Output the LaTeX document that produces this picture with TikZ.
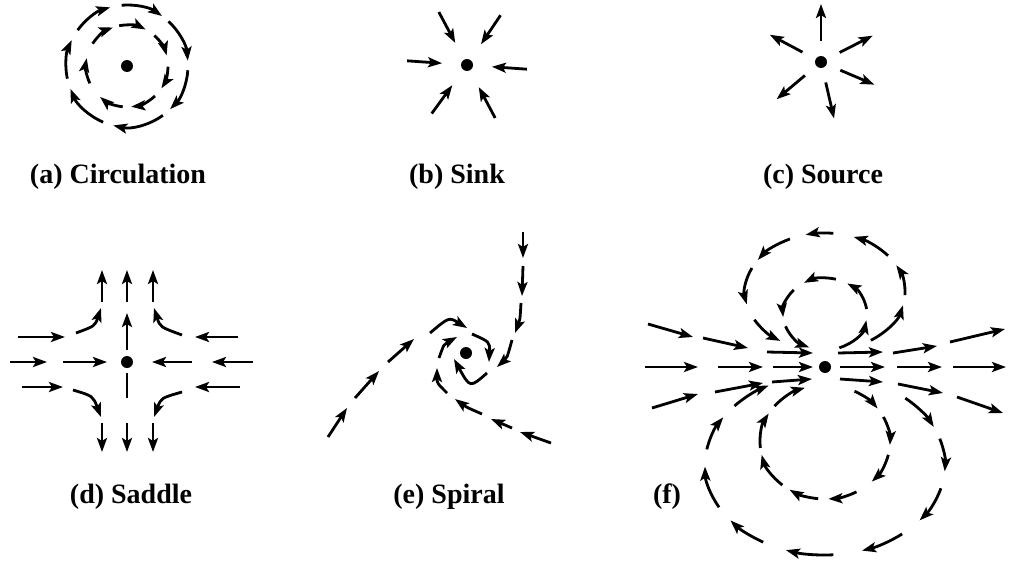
\documentclass[tikz,border=0pt]{standalone}
\usepackage{fontspec}
\setmainfont{Liberation Serif}
\usetikzlibrary{arrows.meta}

\begin{document}
\begin{tikzpicture}[
  x=1pt, y=-1pt,
  flow/.style={-{Stealth[length=14pt, width=10pt, inset=3pt]}, line width=2.8pt},
  seg/.style={line width=2.8pt},
  dot/.style={circle, fill, inner sep=0pt, minimum size=12pt},
  lbl/.style={font=\fontsize{28}{30}\selectfont\bfseries, inner sep=0pt}
]
\useasboundingbox (0,0) rectangle (1010,562);

% (a) circulation
\node[dot] (ca) at (127,66) {};
\foreach \s/\e in {4/45, 54/103, 113/158, 168/205, 216/254, 265/305, 313/355}
  \draw[flow] (127,66) ++(\s:61) arc[start angle=\s, end angle=\e, radius=61];
\foreach \s/\e in {1/33, 47/84, 96/131, 155/191, 213/250, 259/297, 312/345}
  \draw[flow] (127,66) ++(\s:41) arc[start angle=\s, end angle=\e, radius=41];

% (b) sink
\node[dot] (cb) at (467,65) {};
\foreach \a in {4,62,126,184,242,304}
  \draw[flow, shift={(467,65)}] (\a:60) -- (\a:25);

% (c) source
\node[dot] (cc) at (821,62) {};
\foreach \a in {23,77,140,208,270,333}
  \draw[flow, shift={(821,62)}] (\a:21) -- (\a:58);

% (d) saddle
\node[dot] (cd) at (127,362) {};
\draw[flow] (18,337) -- (65,337);
\draw[flow] (238,337) -- (195,337);
\draw[flow] (10,362) -- (47,362);
\draw[flow] (63,362) -- (107,362);
\draw[flow] (192,362) -- (152,362);
\draw[flow] (253,362) -- (212,362);
\draw[flow] (22,387) -- (63,387);
\draw[flow] (240,387) -- (195,387);
\foreach \x in {102,127,153} {
  \draw[flow] (\x,302) -- (\x,270);
  \draw[flow] (\x,423) -- (\x,452);
}
\draw[flow] (127,350) -- (127,313);
\draw[seg] (127,373) -- (127,398);
\draw[flow] (76,333) .. controls (95,326) .. (101,308);
\draw[flow] (182,335) .. controls (160,327) .. (154,308);
\draw[flow] (73,390) .. controls (93,396) .. (101,417);
\draw[flow] (182,392) .. controls (161,398) .. (154,417);

% (e) spiral
\node[dot] (ce) at (466,353) {};
\draw[flow] (328,437) -- (347,408);
\draw[flow] (355,398) -- (379,371);
\draw[flow] (388,362) -- (414,339);
\draw[flow] (430,333) .. controls (449,317) .. (467,328);
\draw[flow] (472,334) .. controls (490,342) .. (489,362);
\draw[flow] (487,373) .. controls (470,388) .. (454,359);
\draw[flow] (523,232) -- (523,258);
\draw[flow] (523,266) -- (522,296);
\draw[flow] (521,303) .. controls (520,320) .. (515,333);
\draw[flow] (512,340) .. controls (507,358) .. (497,367);
\draw[flow] (551,443) -- (520,432);
\draw[flow] (512,428) -- (491,419);
\draw[flow] (482,414) .. controls (466,407) .. (455,399);
\draw[flow] (447,393) .. controls (437,383) .. (437,368);
\draw[flow] (439,358) .. controls (444,344) .. (457,337);

% (f) doublet
\node[dot] (cf) at (825,367) {};
\draw[flow] (648,324) -- (693,337);
\draw[flow] (703,338) -- (748,348);
\draw[flow] (767,352) -- (813,353);
\draw[flow] (838,353) -- (883,352);
\draw[flow] (893,353) -- (937,346);
\draw[flow] (950,342) -- (1005,329);
\draw[flow] (645,367) -- (698,367);
\draw[flow] (718,367) -- (763,367);
\draw[flow] (773,367) -- (813,367);
\draw[flow] (840,367) -- (885,367);
\draw[flow] (897,367) -- (942,367);
\draw[flow] (953,367) -- (1006,367);
\draw[flow] (652,408) -- (698,394);
\draw[flow] (715,392) -- (763,383);
\draw[flow] (772,382) -- (812,379);
\draw[flow] (840,379) -- (883,382);
\draw[flow] (898,384) -- (943,393);
\draw[flow] (957,397) -- (1003,413);
\foreach \s/\e in {55/13, 3/-27, -38/-69, -84/-104, -116/-147, -156/-192, -208/-236}
  \draw[flow] (825,292) ++(\s:80 and 59) arc[start angle=\s, end angle=\e, x radius=80, y radius=59];
\foreach \s/\e in {70/10, -8/-58, -75/-120, -138/-185, -200/-248}
  \draw[flow] (825,314) ++(\s:42 and 36) arc[start angle=\s, end angle=\e, x radius=42, y radius=36];
\foreach \s/\e in {-63/-36, -26/3, 13/44, 61/87, 96/123, 131/167, 174/210, 219/252}
  \draw[flow] (825,442) ++(\s:65 and 57) arc[start angle=\s, end angle=\e, x radius=65, y radius=57];
\foreach \s/\e in {-48/-25, -17/4, 15/38, 50/72, 86/109, 121/142, 152/179, 190/212, 221/242}
  \draw[flow] (825,465) ++(\s:120 and 90) arc[start angle=\s, end angle=\e, x radius=120, y radius=90];

% captions
\node[lbl] (la) at (118,177) {(a) Circulation};
\node[lbl] (lb) at (457,177) {(b) Sink};
\node[lbl] (lc) at (823,177) {(c) Source};
\node[lbl] (ld) at (131,497) {(d) Saddle};
\node[lbl] (le) at (449,497) {(e) Spiral};
\node[lbl] (lf) at (667,497) {(f)};
\end{tikzpicture}
\end{document}
